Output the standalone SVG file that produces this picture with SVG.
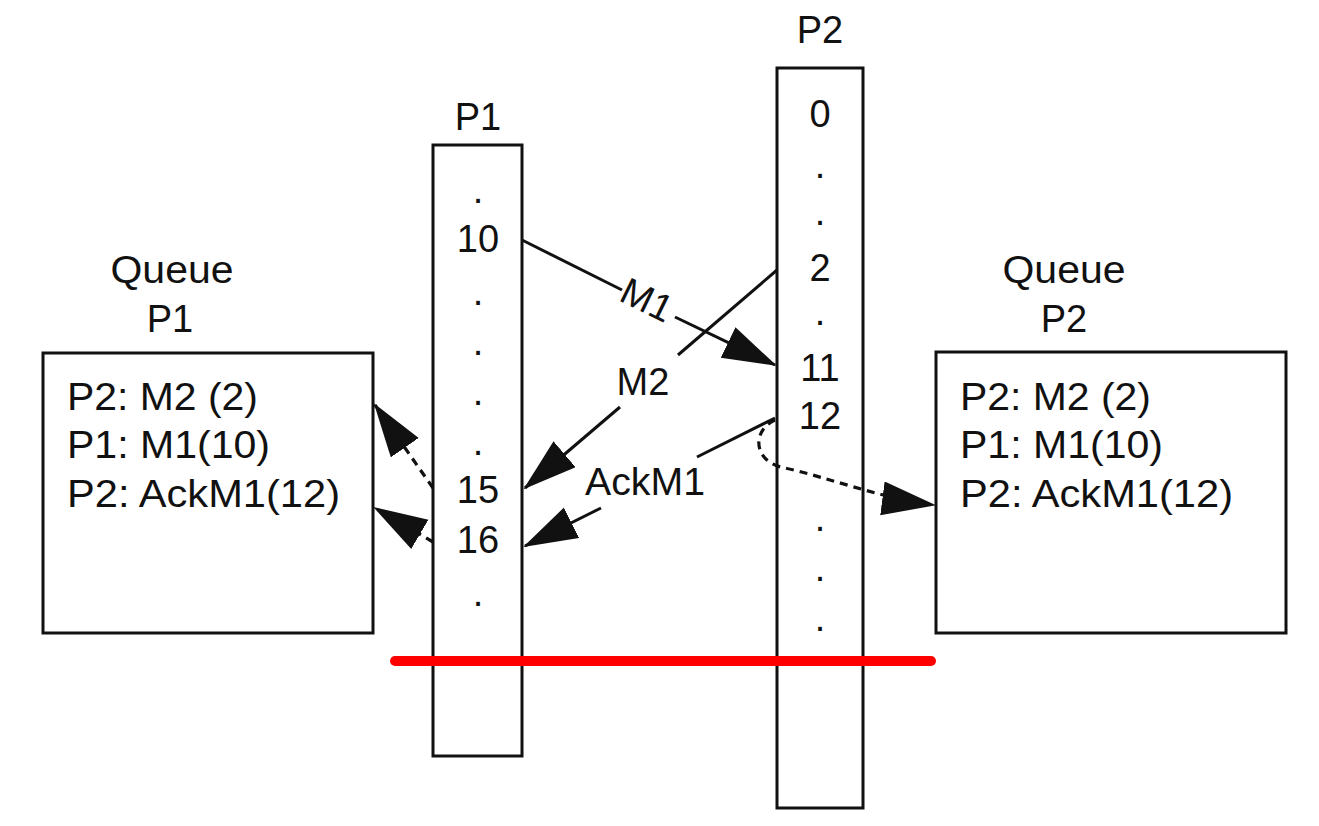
<svg xmlns="http://www.w3.org/2000/svg" width="1319" height="826" viewBox="0 0 1319 826">
  <style>
    .box { fill: #fff; stroke: #111; stroke-width: 3; }
    .t { font-family: "Liberation Sans", Arial, sans-serif; font-size: 38px; fill: #111; }
    .c { text-anchor: middle; }
    .ln { fill: none; stroke: #111; stroke-width: 3; }
    .dash { fill: none; stroke: #111; stroke-width: 3.2; stroke-dasharray: 8 6; }
  </style>
  <defs>
    <marker id="arr" markerUnits="userSpaceOnUse" markerWidth="56" markerHeight="36" viewBox="0 0 56 36" refX="52" refY="17" orient="auto">
      <path d="M0,0 L54,17 L0,34 z" fill="#111"/>
    </marker>
  </defs>
  <rect width="1319" height="826" fill="#fff"/>

  <g id="queue-p1">
    <text class="t c" x="172" y="283" textLength="123" lengthAdjust="spacingAndGlyphs">Queue</text>
    <text class="t c" x="170" y="332">P1</text>
    <rect class="box" x="43" y="353" width="330" height="280"/>
    <text class="t" x="67" y="410" textLength="191" lengthAdjust="spacingAndGlyphs">P2: M2 (2)</text>
    <text class="t" x="67" y="458" textLength="203" lengthAdjust="spacingAndGlyphs">P1: M1(10)</text>
    <text class="t" x="67" y="507" textLength="273" lengthAdjust="spacingAndGlyphs">P2: AckM1(12)</text>
  </g>

  <g id="queue-p2">
    <text class="t c" x="1064" y="283" textLength="123" lengthAdjust="spacingAndGlyphs">Queue</text>
    <text class="t c" x="1064" y="332">P2</text>
    <rect class="box" x="936" y="352" width="350" height="281"/>
    <text class="t" x="960" y="410" textLength="191" lengthAdjust="spacingAndGlyphs">P2: M2 (2)</text>
    <text class="t" x="960" y="458" textLength="203" lengthAdjust="spacingAndGlyphs">P1: M1(10)</text>
    <text class="t" x="960" y="507" textLength="273" lengthAdjust="spacingAndGlyphs">P2: AckM1(12)</text>
  </g>

  <g id="p1">
    <text class="t c" x="478" y="130">P1</text>
    <rect class="box" x="433" y="145" width="89" height="611"/>
    <text class="t c" x="478" y="203">.</text>
    <text class="t c" x="478" y="252">10</text>
    <text class="t c" x="478" y="305">.</text>
    <text class="t c" x="478" y="355">.</text>
    <text class="t c" x="478" y="405">.</text>
    <text class="t c" x="478" y="455">.</text>
    <text class="t c" x="478" y="503">15</text>
    <text class="t c" x="478" y="553">16</text>
    <text class="t c" x="478" y="606">.</text>
  </g>

  <g id="p2">
    <text class="t c" x="820" y="43">P2</text>
    <rect class="box" x="777" y="68" width="86" height="740"/>
    <text class="t c" x="820" y="127">0</text>
    <text class="t c" x="820" y="178">.</text>
    <text class="t c" x="820" y="225">.</text>
    <text class="t c" x="820" y="281">2</text>
    <text class="t c" x="820" y="325">.</text>
    <text class="t c" x="820" y="381">11</text>
    <text class="t c" x="820" y="429">12</text>
    <text class="t c" x="820" y="531">.</text>
    <text class="t c" x="820" y="581">.</text>
    <text class="t c" x="820" y="631">.</text>
  </g>

  <g id="connectors">
    <!-- M1 -->
    <line class="ln" x1="522" y1="240" x2="622" y2="290"/>
    <line class="ln" x1="675" y1="317" x2="775" y2="365" marker-end="url(#arr)"/>
    <text class="t c" x="647" y="313" transform="rotate(26 647 300)">M1</text>
    <!-- M2 -->
    <line class="ln" x1="777" y1="270" x2="678" y2="355"/>
    <line class="ln" x1="620" y1="407" x2="525" y2="488" marker-end="url(#arr)"/>
    <text class="t c" x="643" y="395">M2</text>
    <!-- AckM1 -->
    <line class="ln" x1="775" y1="418" x2="697" y2="457"/>
    <line class="ln" x1="601" y1="508" x2="525" y2="546" marker-end="url(#arr)"/>
    <text class="t c" x="645" y="495" textLength="120" lengthAdjust="spacingAndGlyphs">AckM1</text>
    <!-- dashed to queue P1 -->
    <path class="dash" d="M433,488 L375,405" marker-end="url(#arr)"/>
    <path class="dash" d="M433,542 L375,508" marker-end="url(#arr)"/>
    <!-- dashed to queue P2 -->
    <path class="dash" d="M775,420 C752,430 752,462 785,468 C830,478 880,498 934,505" marker-end="url(#arr)"/>
  </g>

  <g id="cut-line">
    <line x1="395" y1="661" x2="931" y2="661" stroke="#f00" stroke-width="10" stroke-linecap="round"/>
  </g>
</svg>
